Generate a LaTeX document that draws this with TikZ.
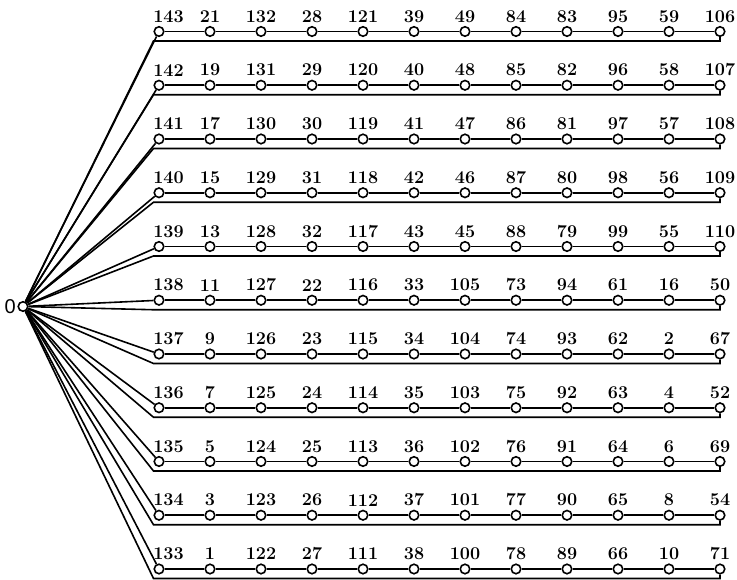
\documentclass[tikz,border=0pt]{standalone}
\usepackage{fontspec}
\newfontfamily\zerofont{Liberation Sans}
\begin{document}
\begin{tikzpicture}[x=1pt,y=-1pt,
  vtx/.style={circle,draw,line width=1.6pt,fill=white,minimum size=9.5pt,inner sep=0pt},
  lbl/.style={font=\fontsize{18}{20}\selectfont\bfseries,inner sep=0pt,label distance=3.3pt},
  edge/.style={line width=1.6pt}]
\useasboundingbox (0,0) rectangle (737,580);
\node[vtx,label={[font=\zerofont\fontsize{20}{22}\selectfont,inner sep=0pt,label distance=1.5pt]left:0}] (r) at (23,306.5) {};
\foreach \row [count=\i] in {
  {143,21,132,28,121,39,49,84,83,95,59,106},
  {142,19,131,29,120,40,48,85,82,96,58,107},
  {141,17,130,30,119,41,47,86,81,97,57,108},
  {140,15,129,31,118,42,46,87,80,98,56,109},
  {139,13,128,32,117,43,45,88,79,99,55,110},
  {138,11,127,22,116,33,105,73,94,61,16,50},
  {137,9,126,23,115,34,104,74,93,62,2,67},
  {136,7,125,24,114,35,103,75,92,63,4,52},
  {135,5,124,25,113,36,102,76,91,64,6,69},
  {134,3,123,26,112,37,101,77,90,65,8,54},
  {133,1,122,27,111,38,100,78,89,66,10,71}}{
  \pgfmathsetmacro{\yy}{31.5+53.75*(\i-1)}
  \foreach \v [count=\j] in \row {
    \ifnum\j=1
      \node[vtx,label={[lbl,xshift=9.5pt]above:\v}] (n-\i-\j) at ({159+51*(\j-1)},\yy) {};
    \else
      \node[vtx,label={[lbl]above:\v}] (n-\i-\j) at ({159+51*(\j-1)},\yy) {};
    \fi
  }
  \draw[edge] (r) -- (n-\i-1);
  \foreach \j [evaluate=\j as \k using {int(\j+1)}] in {1,...,11} {
    \draw[edge] (n-\i-\j) -- (n-\i-\k);
  }
  \coordinate (d-\i) at (720,\yy+9.5);
  \coordinate (c-\i) at (153.5,\yy+9.5);
  \draw[edge] (n-\i-12) -- (d-\i) -- (c-\i) -- (r);
}
\end{tikzpicture}
\end{document}
